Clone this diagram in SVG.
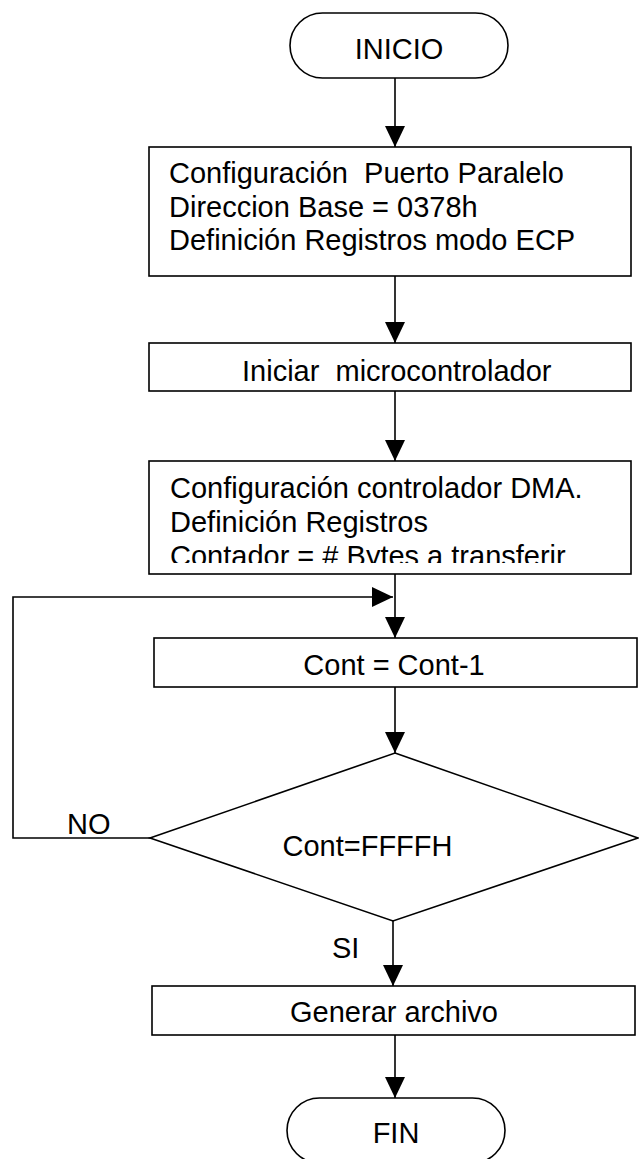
<svg xmlns="http://www.w3.org/2000/svg" width="639" height="1159" viewBox="0 0 639 1159">
<style>
.shape{fill:#fff;stroke:#000;stroke-width:1.6}
.conn{fill:none;stroke:#000;stroke-width:1.6}
text{font-family:"Liberation Sans",Arial,sans-serif;font-size:29px;fill:#000}
.c{text-anchor:middle}
</style>
<defs>
<marker id="arr" markerUnits="userSpaceOnUse" markerWidth="21" markerHeight="20" viewBox="0 0 21 20" refX="21" refY="10" orient="auto">
<path d="M0,0 L21,10 L0,20 Z" fill="#000"/>
</marker>
<clipPath id="clip3"><rect x="149" y="461" width="482" height="102"/></clipPath>
</defs>
<g id="connectors">
<path class="conn" d="M395,78 V147" marker-end="url(#arr)"/>
<path class="conn" d="M395,276 V343" marker-end="url(#arr)"/>
<path class="conn" d="M395,391 V461" marker-end="url(#arr)"/>
<path class="conn" d="M395,574 V638" marker-end="url(#arr)"/>
<path class="conn" d="M150,838 H13 V597 H393" marker-end="url(#arr)"/>
<path class="conn" d="M395,687 V753" marker-end="url(#arr)"/>
<path class="conn" d="M393,921 V986" marker-end="url(#arr)"/>
<path class="conn" d="M395,1035 V1098" marker-end="url(#arr)"/>
<text x="67" y="834">NO</text>
<text x="332" y="958">SI</text>
</g>
<g id="inicio">
<rect class="shape" x="290" y="13" width="218" height="65" rx="32.5" ry="32.5"/>
<text class="c" x="399" y="59">INICIO</text>
</g>
<g id="config-puerto">
<rect class="shape" x="149" y="147" width="482" height="129"/>
<text x="169" y="183" xml:space="preserve">Configuración  Puerto Paralelo</text>
<text x="169" y="216.5">Direccion Base = 0378h</text>
<text x="169" y="250">Definición Registros modo ECP</text>
</g>
<g id="iniciar-micro">
<rect class="shape" x="149" y="343" width="482" height="48"/>
<text x="242" y="381" xml:space="preserve">Iniciar  microcontrolador</text>
</g>
<g id="config-dma">
<rect class="shape" x="149" y="461" width="482" height="113"/>
<g clip-path="url(#clip3)">
<text x="170" y="498">Configuración controlador DMA.</text>
<text x="170" y="532">Definición Registros</text>
<text x="170" y="566">Contador = # Bytes a transferir</text>
</g>
</g>
<g id="decrementar">
<rect class="shape" x="154" y="638" width="483" height="49"/>
<text class="c" x="394" y="675">Cont = Cont-1</text>
</g>
<g id="decision">
<polygon class="shape" points="395,753 638,838 393,921 150,838"/>
<text class="c" x="367.5" y="856">Cont=FFFFH</text>
</g>
<g id="generar">
<rect class="shape" x="152" y="986" width="483" height="49"/>
<text class="c" x="394" y="1022">Generar archivo</text>
</g>
<g id="fin">
<rect class="shape" x="287" y="1098" width="218" height="65" rx="32.5" ry="32.5"/>
<text class="c" x="396" y="1143">FIN</text>
</g>
</svg>
